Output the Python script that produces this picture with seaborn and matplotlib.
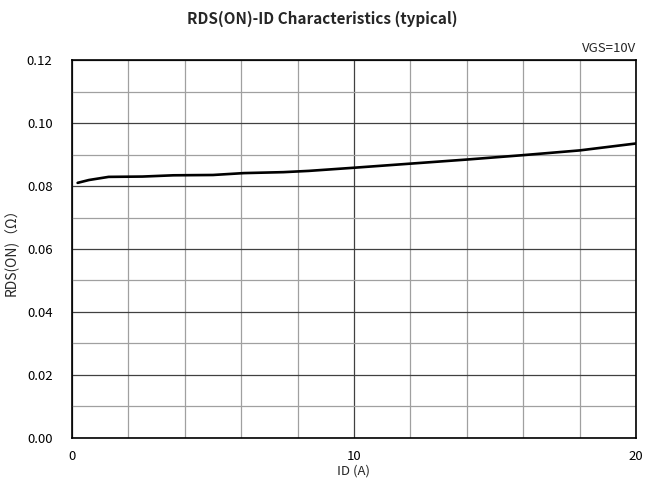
import matplotlib
matplotlib.use('Agg')
import matplotlib.pyplot as plt
from matplotlib.ticker import MultipleLocator
import numpy as np
import pandas as pd
import seaborn as sns

sns.set_style('white')
plt.rcParams['font.family'] = ['Noto Sans CJK JP', 'DejaVu Sans']

# values
id_amps = [0.2, 0.6, 1.3, 2.5, 3.6, 5.0, 6.1, 7.5, 8.4, 10.0, 12.0, 14.0, 16.0, 18.0, 20.0]
rds_on = [0.0810, 0.0819, 0.0829, 0.0830, 0.0834, 0.0835, 0.0841, 0.0844, 0.0848,
          0.0858, 0.0871, 0.0884, 0.0898, 0.0913, 0.0935]

df = pd.DataFrame({'ID': id_amps, 'RDS': rds_on})

fig = plt.figure(figsize=(6.45, 4.94), dpi=100)
ax = fig.add_axes([0.1116, 0.1134, 0.8744, 0.7651])

sns.lineplot(data=df, x='ID', y='RDS', ax=ax, color='black', linewidth=1.9)

ax.set_xlim(0, 20)
ax.set_ylim(0, 0.12)
ax.xaxis.set_major_locator(MultipleLocator(10))
ax.xaxis.set_minor_locator(MultipleLocator(2))
ax.yaxis.set_major_locator(MultipleLocator(0.02))
ax.yaxis.set_minor_locator(MultipleLocator(0.01))
ax.yaxis.set_major_formatter(plt.FormatStrFormatter('%.2f'))

ax.grid(which='major', color='#404040', linewidth=0.9)
ax.grid(which='minor', color='#a0a0a0', linewidth=0.9)
ax.set_axisbelow(True)
ax.tick_params(which='both', length=0, labelsize=9.5, colors='black')
ax.tick_params(axis='x', pad=9)
ax.tick_params(axis='y', pad=14)

for s in ax.spines.values():
    s.set_color('black')
    s.set_linewidth(1.2)

ax.set_xlabel('ID (A)', fontsize=9.5, labelpad=1)
ax.set_ylabel('RDS(ON)（Ω）', fontsize=10, labelpad=6)
ax.text(1.0, 1.012, 'VGS=10V', transform=ax.transAxes, ha='right', va='bottom', fontsize=9.5)
fig.suptitle('RDS(ON)-ID Characteristics (typical)', x=0.5, y=0.978,
             fontsize=11, fontweight='bold')

fig.savefig('out.png', dpi=100)
